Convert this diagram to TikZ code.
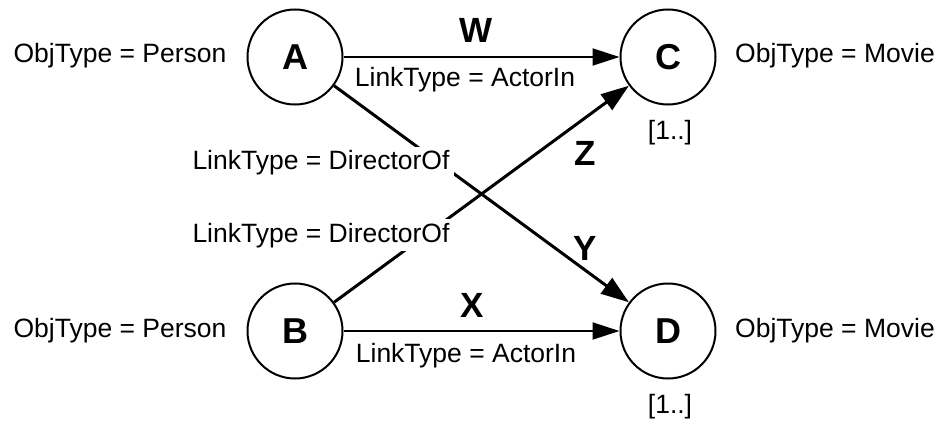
\documentclass[tikz,border=0pt]{standalone}
\usepackage{fontspec}
\setmainfont{Liberation Sans}
\usetikzlibrary{arrows.meta}
\begin{document}
\begin{tikzpicture}[x=1pt,y=-1pt,
  obj/.style={draw, circle, line width=2pt, minimum size=95pt, inner sep=0pt,
    font=\fontsize{36}{40}\selectfont\bfseries},
  lbl/.style={font=\fontsize{26.5}{30}\selectfont, inner sep=0pt, anchor=base},
  edgename/.style={font=\fontsize{35}{40}\selectfont\bfseries, inner sep=0pt, anchor=base},
  cover/.style={lbl, fill=white, inner sep=4pt},
  thin link/.style={line width=2pt, -{Triangle[length=27pt,width=17pt]}},
  thick link/.style={line width=3pt, -{Triangle[length=28pt,width=19pt]}},
]
\useasboundingbox (0,0) rectangle (940,425);

% objects
\node[obj] (A) at (295,57) {A};
\node[obj] (C) at (668,57) {C};
\node[obj] (B) at (295,331) {B};
\node[obj] (D) at (668,331) {D};

% object types and cardinalities
\node[lbl] (tA) at (120,63) {ObjType = Person};
\node[lbl] (tC) at (835,63) {ObjType = Movie};
\node[lbl] (tB) at (120,337) {ObjType = Person};
\node[lbl] (tD) at (835,337) {ObjType = Movie};
\node[font=\fontsize{26.5}{30}\selectfont, inner sep=0pt] (cC) at (670,133) {[1..]};
\node[font=\fontsize{26.5}{30}\selectfont, inner sep=0pt] (cD) at (670,407) {[1..]};

% links
\draw[thin link] (A) -- (C);
\draw[thin link] (B) -- (D);
\draw[thick link] (A) -- (D);
\draw[thick link] (B) -- (C);

% link names and types
\node[edgename] (w) at (476,43) {W};
\node[edgename] (x) at (472,317) {X};
\node[edgename] (z) at (585,165) {Z};
\node[edgename] (y) at (585,260) {Y};
\node[lbl] (lAC) at (465,87) {LinkType = ActorIn};
\node[lbl] (lBD) at (466,362) {LinkType = ActorIn};
\node[cover] (lAD) at (321,170) {LinkType = DirectorOf};
\node[cover] (lBC) at (321,242) {LinkType = DirectorOf};
\end{tikzpicture}
\end{document}
